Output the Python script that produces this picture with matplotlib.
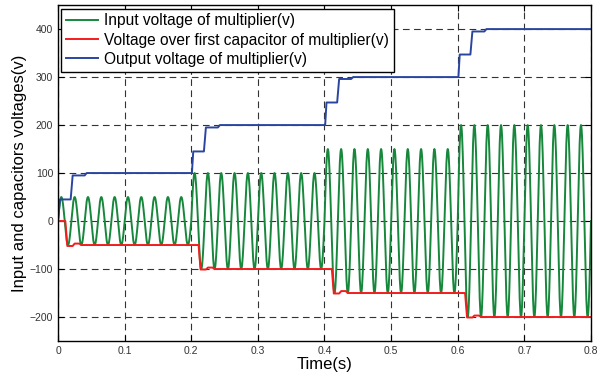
import numpy as np
import matplotlib
matplotlib.use("Agg")
import matplotlib.pyplot as plt

plt.rcParams['font.family'] = ['Liberation Sans', 'DejaVu Sans']

# ---- data ----
# input voltage: sinusoid, 50 Hz, amplitude changes every 0.2 s
segment_starts = [0.0, 0.2, 0.4, 0.6]
segment_amplitudes = [50, 100, 150, 200]
input_frequency = 50.0

# output voltage of multiplier (breakpoints)
out_t = [0, 0.003, 0.019, 0.022, 0.040, 0.043,
         0.201, 0.203, 0.219, 0.222, 0.240, 0.243,
         0.401, 0.403, 0.419, 0.422, 0.440, 0.443,
         0.601, 0.603, 0.619, 0.622, 0.640, 0.643, 0.8]
out_v = [0, 45, 45, 95, 95, 100,
         100, 145, 145, 195, 195, 200,
         200, 247, 247, 296, 296, 300,
         300, 347, 347, 395, 395, 400, 400]

# voltage over first capacitor (breakpoints)
cap_t = [0, 0.011, 0.014, 0.022, 0.025, 0.032, 0.035,
         0.211, 0.214, 0.222, 0.225, 0.232, 0.235,
         0.411, 0.414, 0.422, 0.425, 0.432, 0.435,
         0.611, 0.614, 0.622, 0.625, 0.632, 0.635, 0.8]
cap_v = [0, 0, -52, -52, -47, -47, -50,
         -50, -101, -101, -97, -97, -100,
         -100, -151, -151, -146, -146, -150,
         -150, -201, -201, -197, -197, -200, -200]

x_ticks = [0, 0.1, 0.2, 0.3, 0.4, 0.5, 0.6, 0.7, 0.8]
x_ticklabels = ['0', '0.1', '0.2', '0.3', '0.4', '0.5', '0.6', '0.7', '0.8']
y_ticks = [-200, -100, 0, 100, 200, 300, 400]

labels = ['Input voltage of multiplier(v)',
          'Voltage over first capacitor of multiplier(v)',
          'Output voltage of multiplier(v)']
colors = ['#17873c', '#f41c1c', '#2a45a0']

# ---- build input waveform ----
t = np.linspace(0, 0.8, 1601)
amp = np.zeros_like(t)
for s, a in zip(segment_starts, segment_amplitudes):
    amp[t >= s] = a
vin = amp * np.sin(2 * np.pi * input_frequency * t)

fig = plt.figure(figsize=(6.08, 3.77), dpi=100)
ax = fig.add_axes([0.0954, 0.0955, 0.8766, 0.891])

ax.plot(t, vin, color=colors[0], lw=1.4, label=labels[0])
ax.plot(cap_t, cap_v, color=colors[1], lw=1.4, label=labels[1])
ax.plot(out_t, out_v, color=colors[2], lw=1.4, label=labels[2])

ax.set_xlim(0, 0.8)
ax.set_ylim(-250, 450)
ax.set_xticks(x_ticks)
ax.set_xticklabels(x_ticklabels)
ax.set_yticks(y_ticks)
ax.tick_params(direction='in', top=True, right=True, labelsize=7.5,
               length=4, width=0.8, colors='black', labelcolor='#333333')
ax.grid(True, color='#333333', linestyle=(0, (6, 4)), linewidth=0.8)
for sp in ax.spines.values():
    sp.set_linewidth(1.0)

ax.set_xlabel('Time(s)', fontsize=12, labelpad=1)
ax.set_ylabel('Input and capacitors voltages(v)', fontsize=12, labelpad=2)

leg = ax.legend(loc='upper left', fontsize=11.2, frameon=True, fancybox=False,
                edgecolor='black', framealpha=1, borderpad=0.32,
                labelspacing=0.27, handlelength=2.0, handletextpad=0.4,
                borderaxespad=0.22)
leg.get_frame().set_linewidth(1.0)

fig.savefig('out.png', dpi=100)
